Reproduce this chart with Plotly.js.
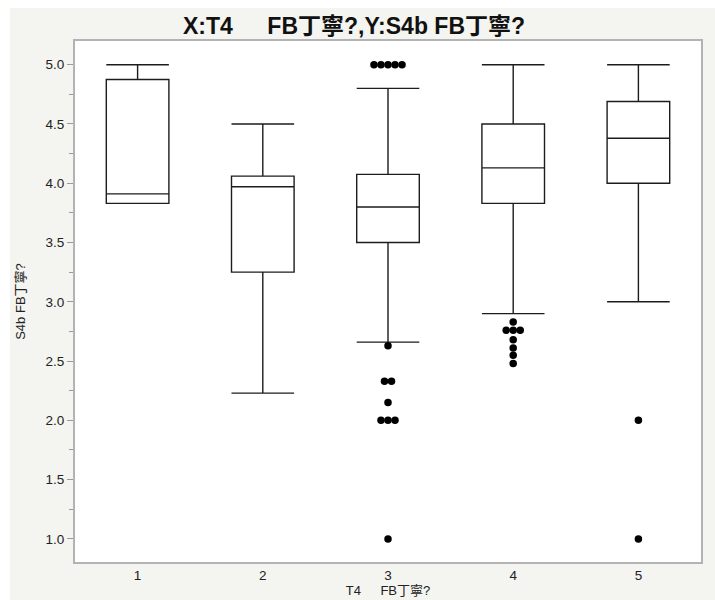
<!DOCTYPE html>
<html><head><meta charset="utf-8">
<script src="https://cdn.plot.ly/plotly-3.0.1.min.js"></script>
<style>
html,body{margin:0;padding:0;background:#ffffff;}
#chart{position:absolute;left:10px;top:8px;width:705px;height:592px;}
</style></head><body><div id="chart"></div>
<script>
// ---- data ----
const categories = [1, 2, 3, 4, 5];
const tickLabels = ['1', '2', '3', '4', '5'];
const lowerFence = [3.83, 2.23, 2.66, 2.90, 3.00];
const q1 = [3.83, 3.25, 3.50, 3.83, 4.00];
const median = [3.91, 3.97, 3.80, 4.13, 4.38];
const q3 = [4.875, 4.06, 4.075, 4.50, 4.69];
const upperFence = [5.00, 4.50, 4.80, 5.00, 5.00];
const outlierCategory = [3, 3, 3, 3, 3, 3, 3, 3, 3, 3, 3, 3, 3, 4, 4, 4, 4, 4, 4, 4, 4, 5, 5];
const outlierValue = [5.0, 5.0, 5.0, 5.0, 5.0, 2.63, 2.33, 2.33, 2.15, 2.0, 2.0, 2.0, 1.0,
                      2.83, 2.76, 2.76, 2.76, 2.68, 2.61, 2.55, 2.48, 2.0, 1.0];
const yTickVals = [1.0, 1.5, 2.0, 2.5, 3.0, 3.5, 4.0, 4.5, 5.0];

const titleText = 'X:T4\u3000\u2002FB丁寧?,Y:S4b FB丁寧?';
const xTitle = 'T4\u3000\u2002FB丁寧?';
const yTitle = 'S4b FB丁寧?';

// ---- stacking of identical outliers side by side (layout only) ----
const dotStep = 0.056;
const groups = {};
outlierCategory.forEach((c, i) => {
  const k = c + '|' + outlierValue[i];
  (groups[k] = groups[k] || []).push(i);
});
const outX = new Array(outlierValue.length);
Object.values(groups).forEach(idx => {
  const n = idx.length;
  idx.forEach((i, j) => { outX[i] = outlierCategory[i] + (j - (n - 1) / 2) * dotStep; });
});

const FONT = '"Liberation Sans", Arial, "Noto Sans CJK JP", sans-serif';
const lineCol = '#1c1c1c';

const boxTrace = {
  type: 'box',
  x: categories,
  q1: q1, median: median, q3: q3,
  lowerfence: lowerFence, upperfence: upperFence,
  width: 0.5,
  whiskerwidth: 1,
  boxpoints: false,
  fillcolor: 'rgba(255,255,255,0)',
  line: {color: lineCol, width: 1.4},
  showlegend: false,
  hoverinfo: 'skip'
};

const outTrace = {
  type: 'scatter',
  mode: 'markers',
  x: outX,
  y: outlierValue,
  marker: {color: '#000000', size: 7.5, line: {width: 0}},
  showlegend: false,
  hoverinfo: 'skip',
  cliponaxis: false
};

const layout = {
  width: 705, height: 592, autosize: false,
  paper_bgcolor: '#f4f4f0',
  plot_bgcolor: '#ffffff',
  margin: {l: 65, r: 13.5, t: 33, b: 37.5, pad: 0},
  font: {family: FONT, color: '#222222', size: 13},
  title: {
    text: titleText,
    font: {family: FONT, size: 23, weight: 'bold', color: '#111111'},
    xref: 'container', x: 0.488, xanchor: 'center',
    yref: 'container', y: 1 - 18 / 592, yanchor: 'middle'
  },
  xaxis: {
    range: [0.5, 5.5],
    tickmode: 'array', tickvals: categories, ticktext: tickLabels,
    ticks: '', showgrid: false, zeroline: false,
    showline: true, mirror: true, linecolor: '#b3b3b3', linewidth: 2,
    tickfont: {size: 13.5, color: '#222222'},
    title: {text: xTitle, font: {size: 13, color: '#222222'}, standoff: 2},
    automargin: false
  },
  yaxis: {
    range: [0.805, 5.2],
    tickmode: 'array', tickvals: yTickVals, tickformat: '.1f',
    ticks: 'outside', ticklen: 6, tickcolor: '#9a9a9a', tickwidth: 1,
    minor: {ticks: 'outside', ticklen: 4, tickcolor: '#9a9a9a', dtick: 0.25, tick0: 1, showgrid: false},
    showgrid: false, zeroline: false,
    showline: true, mirror: true, linecolor: '#b3b3b3', linewidth: 2,
    tickfont: {size: 13.5, color: '#222222'},
    title: {text: yTitle, font: {size: 13, color: '#222222'}, standoff: 17},
    automargin: false
  }
};

Plotly.newPlot('chart', [boxTrace, outTrace], layout, {displayModeBar: false, staticPlot: true});
</script>
</body></html>
